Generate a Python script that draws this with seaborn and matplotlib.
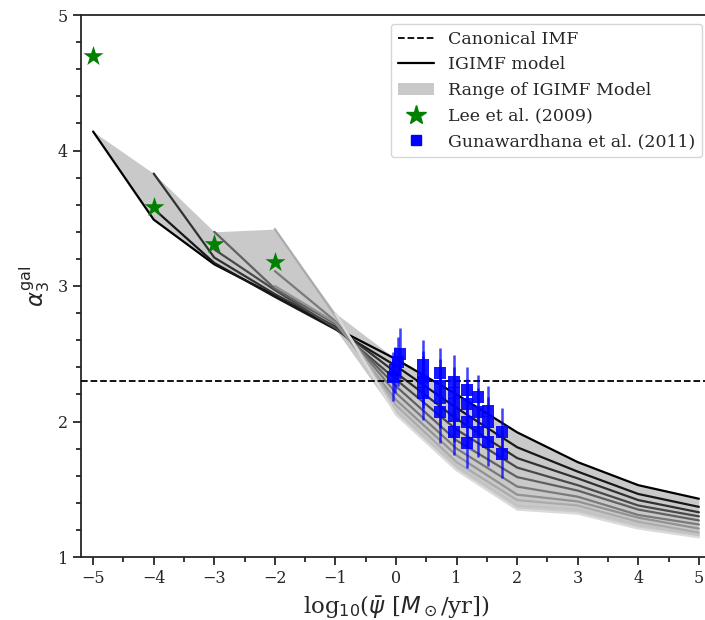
import matplotlib

matplotlib.use("Agg")
import matplotlib.pyplot as plt
import numpy as np
import pandas as pd
import seaborn as sns
from matplotlib.lines import Line2D
from matplotlib.patches import Patch
from matplotlib.ticker import MultipleLocator

# --------------------------------------------------------------------- #
# Data
# --------------------------------------------------------------------- #
LOG_SFR = [-5, -4, -3, -2, -1, 0, 1, 2, 3, 4, 5]
nan = np.nan

# IGIMF model curves, darkest first
IGIMF_CURVES = [
    [4.14, 3.49, 3.16, 2.93, 2.69, 2.46, 2.20, 1.92, 1.70, 1.53, 1.43],
    [nan, 3.57, 3.17, 2.92, 2.68, 2.41, 2.10, 1.81, 1.63, 1.465, 1.37],
    [nan, 3.83, 3.21, 2.94, 2.70, 2.36, 2.02, 1.73, 1.58, 1.42, 1.33],
    [nan, nan, 3.27, 2.97, 2.69, 2.31, 1.94, 1.66, 1.53, 1.38, 1.30],
    [nan, nan, 3.40, 2.98, 2.72, 2.26, 1.86, 1.59, 1.49, 1.35, 1.27],
    [nan, nan, nan, 3.11, 2.74, 2.21, 1.80, 1.52, 1.445, 1.31, 1.24],
    [nan, nan, nan, 3.00, 2.73, 2.16, 1.75, 1.46, 1.41, 1.29, 1.21],
    [nan, nan, nan, 3.42, 2.78, 2.12, 1.70, 1.42, 1.38, 1.26, 1.18],
    [nan, nan, nan, nan, 2.79, 2.08, 1.67, 1.38, 1.35, 1.24, 1.16],
    [nan, nan, nan, nan, 2.80, 2.05, 1.64, 1.35, 1.32, 1.21, 1.145],
]

CANONICAL_ALPHA3 = 2.3

# Lee et al. (2009)
LEE_X = [-5, -4, -3, -2]
LEE_Y = [4.70, 3.58, 3.31, 3.18]

# Gunawardhana et al. (2011)
GUNA_X = [-0.05, -0.02, 0.03, 0.07,
          0.45, 0.45, 0.45, 0.45,
          0.73, 0.73, 0.73, 0.73,
          0.96, 0.96, 0.96, 0.96, 0.96,
          1.18, 1.18, 1.18, 1.18,
          1.35, 1.35, 1.35,
          1.52, 1.52, 1.52,
          1.75, 1.75]
GUNA_Y = [2.33, 2.38, 2.44, 2.50,
          2.42, 2.33, 2.29, 2.21,
          2.36, 2.26, 2.17, 2.07,
          2.29, 2.21, 2.13, 2.04, 1.92,
          2.23, 2.13, 2.00, 1.84,
          2.18, 2.07, 1.92,
          2.08, 2.00, 1.85,
          1.92, 1.76]
GUNA_ERR = [0.18, 0.17, 0.18, 0.19,
            0.18, 0.19, 0.19, 0.20,
            0.18, 0.20, 0.22, 0.23,
            0.20, 0.19, 0.20, 0.19, 0.17,
            0.17, 0.18, 0.19, 0.18,
            0.16, 0.18, 0.18,
            0.18, 0.18, 0.18,
            0.18, 0.18]

# --------------------------------------------------------------------- #
# Style
# --------------------------------------------------------------------- #
sns.set_style("ticks")
plt.rcParams["font.family"] = ["DejaVu Serif"]
plt.rcParams["mathtext.fontset"] = "dejavusans"

n_curves = len(IGIMF_CURVES)
greys = [str(g) for g in np.linspace(0.0, 0.86, n_curves)]

rows = []
for i, curve in enumerate(IGIMF_CURVES):
    for x, y in zip(LOG_SFR, curve):
        if not np.isnan(y):
            rows.append({"curve": i, "log_sfr": x, "alpha3": y})
df_model = pd.DataFrame(rows)

stack = np.array(IGIMF_CURVES, dtype=float)
lo = np.nanmin(stack, axis=0)
hi = np.nanmax(stack, axis=0)

fig = plt.figure(figsize=(7.05, 6.2), dpi=100)
ax = fig.add_axes([81 / 705, 63 / 620, 630 / 705, 542 / 620])

ax.fill_between(LOG_SFR, lo, hi, color="0.5", alpha=0.42, lw=0, zorder=1)
sns.lineplot(data=df_model, x="log_sfr", y="alpha3", hue="curve",
             palette=greys, estimator=None, sort=False, lw=1.6,
             legend=False, ax=ax, zorder=2)
ax.axhline(CANONICAL_ALPHA3, color="black", ls="--", lw=1.3, zorder=3)

ax.errorbar(GUNA_X, GUNA_Y, yerr=GUNA_ERR, fmt="none", ecolor="blue",
            elinewidth=1.8, alpha=0.75, zorder=4)
sns.scatterplot(x=GUNA_X, y=GUNA_Y, marker="s", color="blue", s=75,
                linewidth=0, alpha=0.9, ax=ax, zorder=5)
sns.scatterplot(x=LEE_X, y=LEE_Y, marker="*", color="green", s=230,
                linewidth=0, ax=ax, zorder=6)

ax.set_xlim(-5.2, 5.2)
ax.set_ylim(1, 5)
ax.set_xticks(range(-5, 6))
ax.set_yticks(range(1, 6))
ax.xaxis.set_minor_locator(MultipleLocator(0.5))
ax.yaxis.set_minor_locator(MultipleLocator(0.2))
ax.tick_params(which="major", direction="out", length=6, width=1.3, labelsize=11.5)
ax.tick_params(which="minor", direction="out", length=3.5, width=1.3)
for sp in ax.spines.values():
    sp.set_linewidth(1.3)
ax.spines["right"].set_visible(False)

ax.set_xlabel(r"log$_{10}$($\bar{\psi}$ [$M_\odot$/yr])", fontsize=16.5)
ax.set_ylabel(r"$\alpha_3^{\rm gal}$", fontsize=16.5)

handles = [
    Line2D([], [], color="black", ls="--", lw=1.3),
    Line2D([], [], color="black", lw=1.6),
    Patch(facecolor="0.5", alpha=0.42, lw=0),
    Line2D([], [], color="green", marker="*", ls="none", markersize=15),
    Line2D([], [], color="blue", marker="s", ls="none", markersize=7),
]
labels = ["Canonical IMF", "IGIMF model", "Range of IGIMF Model",
          "Lee et al. (2009)", "Gunawardhana et al. (2011)"]
ax.legend(handles, labels, loc="upper right", fontsize=12.5,
          labelspacing=0.5, handlelength=2.1)

fig.savefig("out.png", dpi=100)
